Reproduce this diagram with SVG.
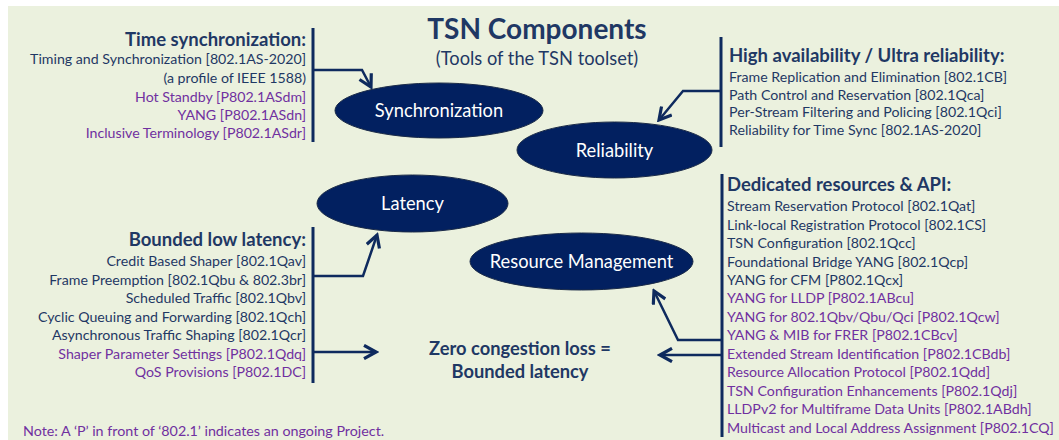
<svg xmlns="http://www.w3.org/2000/svg" width="1059" height="440" viewBox="0 0 1059 440">
<defs>
<style>
text{font-family:Lato,"Open Sans","Liberation Sans",sans-serif;}
.t{font-size:14.2px;fill:#1F3864;}
.p{font-size:14.2px;fill:#7030A0;}
.h{font-size:18.5px;font-weight:bold;fill:#1F3864;}
.e{font-size:18.3px;fill:#FFFFFF;text-anchor:middle;}
.bar{stroke:#0E2A5E;stroke-width:3;fill:none;}
.c{stroke:#0E2A5E;stroke-width:2.5;fill:none;marker-end:url(#ah);}
.ell{fill:#022060;stroke:#1B2B48;stroke-width:1;}
.r{text-anchor:end;}
</style>
<marker id="ah" markerUnits="userSpaceOnUse" markerWidth="16" markerHeight="16" viewBox="0 0 12 12" refX="10" refY="6" orient="auto">
<path d="M1,1 L10,6 L1,11" fill="none" stroke="#0E2A5E" stroke-width="2.4"/>
</marker>
</defs>
<rect x="8" y="6" width="1051" height="434" fill="#EBF1DE"/>
<g id="title">
<text x="537" y="39" text-anchor="middle" style="font-size:28px;font-weight:bold;fill:#1F3864">TSN Components</text>
<text x="537" y="65" text-anchor="middle" style="font-size:18.3px;fill:#1F3864">(Tools of the TSN toolset)</text>
</g>
<g id="connectors">
<line class="bar" x1="313" y1="28" x2="313" y2="142"/>
<line class="bar" x1="721" y1="37" x2="721" y2="147"/>
<line class="bar" x1="313" y1="227" x2="313" y2="383"/>
<line class="bar" x1="722" y1="174" x2="722" y2="437"/>
<polyline class="c" points="313,70 362,70 371,87"/>
<polyline class="c" points="721,91 683,91 659,120"/>
<polyline class="c" points="313,276 363,276 377,235"/>
<polyline class="c" points="313,352 376,352"/>
<polyline class="c" points="722,340 678,340 654,291"/>
<polyline class="c" points="722,355 660,355"/>
</g>
<g id="time-sync">
<text class="h r" x="306" y="46">Time synchronization:</text>
<text class="t r" x="306" y="64">Timing and Synchronization [802.1AS-2020]</text>
<text class="t r" x="306" y="83">(a profile of IEEE 1588)</text>
<text class="p r" x="306" y="102">Hot Standby [P802.1ASdm]</text>
<text class="p r" x="306" y="120">YANG [P802.1ASdn]</text>
<text class="p r" x="306" y="138">Inclusive Terminology [P802.1ASdr]</text>
</g>
<g id="reliability-list">
<text class="h" x="729" y="62">High availability / Ultra reliability:</text>
<text class="t" x="729" y="82">Frame Replication and Elimination [802.1CB]</text>
<text class="t" x="729" y="100">Path Control and Reservation [802.1Qca]</text>
<text class="t" x="729" y="117">Per-Stream Filtering and Policing [802.1Qci]</text>
<text class="t" x="729" y="135">Reliability for Time Sync [802.1AS-2020]</text>
</g>
<g id="latency-list">
<text class="h r" x="306" y="246">Bounded low latency:</text>
<text class="t r" x="306" y="266">Credit Based Shaper [802.1Qav]</text>
<text class="t r" x="306" y="285">Frame Preemption [802.1Qbu &amp; 802.3br]</text>
<text class="t r" x="306" y="303">Scheduled Traffic [802.1Qbv]</text>
<text class="t r" x="306" y="322">Cyclic Queuing and Forwarding [802.1Qch]</text>
<text class="t r" x="306" y="340">Asynchronous Traffic Shaping [802.1Qcr]</text>
<text class="p r" x="306" y="359">Shaper Parameter Settings [P802.1Qdq]</text>
<text class="p r" x="306" y="377">QoS Provisions [P802.1DC]</text>
</g>
<g id="resources-list">
<text class="h" x="727" y="191">Dedicated resources &amp; API:</text>
<text class="t" x="727" y="211">Stream Reservation Protocol [802.1Qat]</text>
<text class="t" x="727" y="230">Link-local Registration Protocol [802.1CS]</text>
<text class="t" x="727" y="248">TSN Configuration [802.1Qcc]</text>
<text class="t" x="727" y="267">Foundational Bridge YANG [802.1Qcp]</text>
<text class="t" x="727" y="285">YANG for CFM [P802.1Qcx]</text>
<text class="p" x="727" y="303">YANG for LLDP [P802.1ABcu]</text>
<text class="p" x="727" y="322">YANG for 802.1Qbv/Qbu/Qci [P802.1Qcw]</text>
<text class="p" x="727" y="340">YANG &amp; MIB for FRER [P802.1CBcv]</text>
<text class="p" x="727" y="359">Extended Stream Identification [P802.1CBdb]</text>
<text class="p" x="727" y="377">Resource Allocation Protocol [P802.1Qdd]</text>
<text class="p" x="727" y="396">TSN Configuration Enhancements [P802.1Qdj]</text>
<text class="p" x="727" y="414">LLDPv2 for Multiframe Data Units [P802.1ABdh]</text>
<text class="p" x="727" y="433">Multicast and Local Address Assignment [P802.1CQ]</text>
</g>
<g id="synchronization">
<ellipse class="ell" cx="439" cy="110.5" rx="104" ry="27.5"/>
<text class="e" x="439" y="117">Synchronization</text>
</g>
<g id="reliability">
<ellipse class="ell" cx="614.5" cy="150" rx="97.5" ry="28"/>
<text class="e" x="614.5" y="157">Reliability</text>
</g>
<g id="latency">
<ellipse class="ell" cx="412.5" cy="203.5" rx="95.5" ry="28.5"/>
<text class="e" x="412.5" y="210">Latency</text>
</g>
<g id="resource-management">
<ellipse class="ell" cx="581.5" cy="261.5" rx="111.5" ry="28.5"/>
<text class="e" x="581.5" y="268">Resource Management</text>
</g>
<g id="zero-congestion">
<text x="520" y="355" text-anchor="middle" style="font-size:18.3px;font-weight:bold;fill:#1F3864">Zero congestion loss =</text>
<text x="520" y="378" text-anchor="middle" style="font-size:18.3px;font-weight:bold;fill:#1F3864">Bounded latency</text>
</g>
<g id="note">
<text x="23" y="436" style="font-size:14.3px;fill:#7030A0">Note: A ‘P’ in front of ‘802.1’ indicates an ongoing Project.</text>
</g>
</svg>
